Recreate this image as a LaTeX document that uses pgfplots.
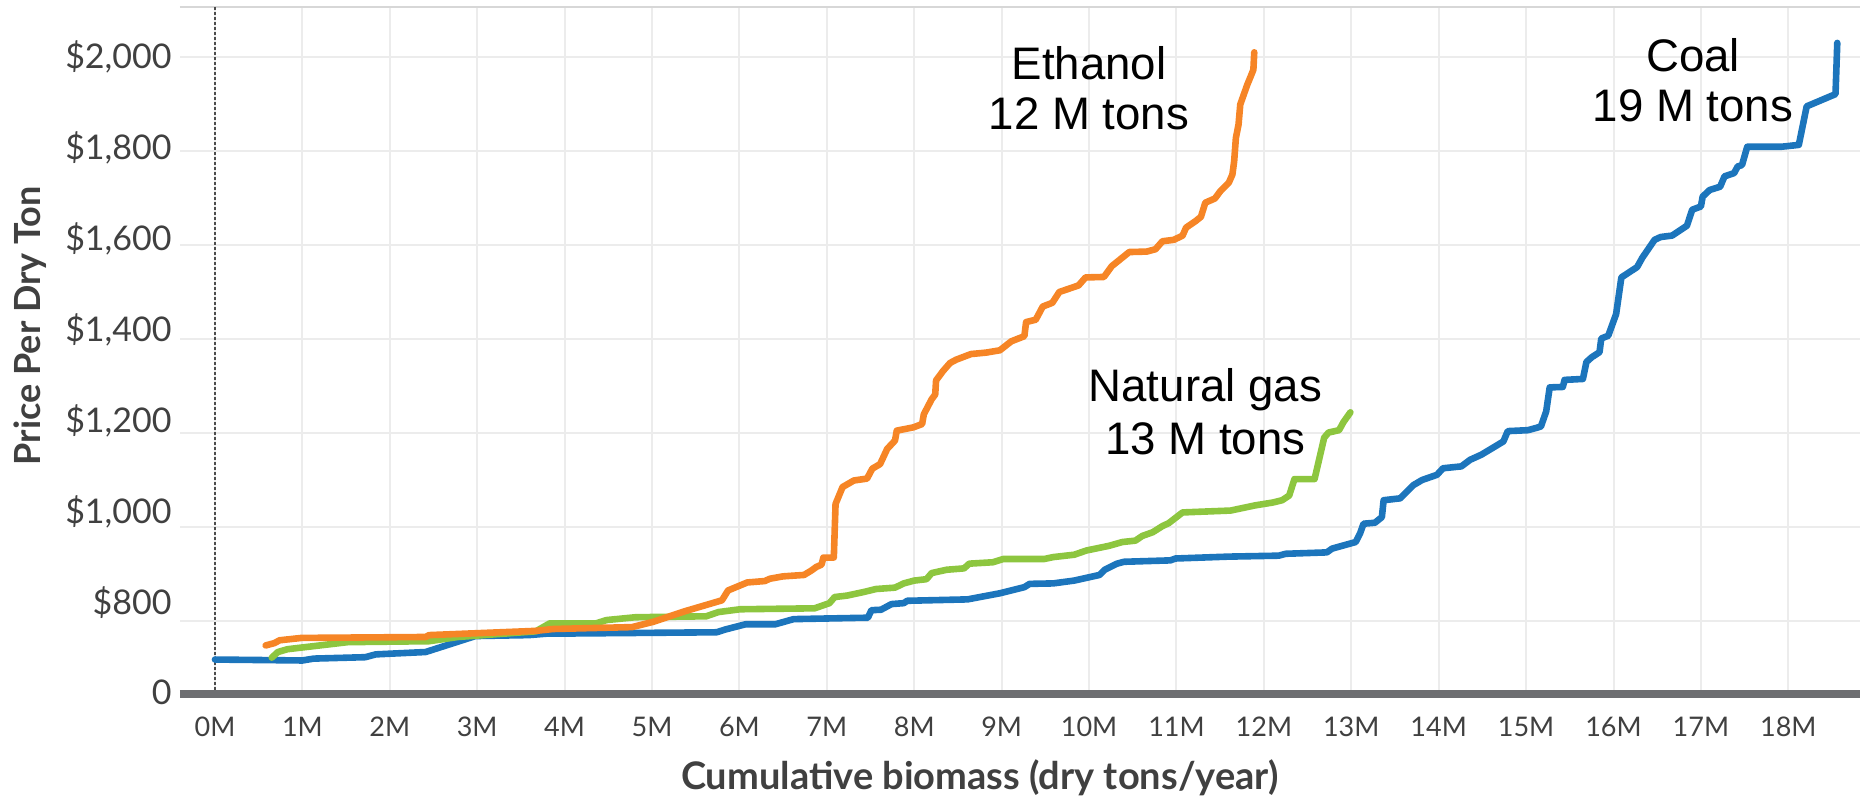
\documentclass[border=0pt]{standalone}
\usepackage{pgfplots}
\pgfplotsset{compat=1.18}
\usepackage{fontspec}
\setmainfont{Lato}[Numbers={Lining,Monospaced}]
\newfontfamily\arialf{Liberation Sans}
\definecolor{coal}{RGB}{28,117,188}
\definecolor{gas}{RGB}{141,198,63}
\definecolor{eth}{RGB}{246,133,38}
\definecolor{gridgray}{RGB}{236,236,236}
\definecolor{topgray}{RGB}{215,215,215}
\definecolor{axisgray}{RGB}{109,110,113}
\definecolor{labgray}{RGB}{64,64,64}
\begin{document}
\begin{tikzpicture}
\begin{axis}[
  at={(0,0)}, anchor=south west,
  scale only axis, width=840pt, height=343.5pt,
  xmin=-0.40, xmax=18.82, ymin=644.7, ymax=2106.4,
  axis line style={draw=none},
  clip=false,
  major tick length=0pt,
  xtick={0,...,18},
  xticklabels={0M,1M,2M,3M,4M,5M,6M,7M,8M,9M,10M,11M,12M,13M,14M,15M,16M,17M,18M},
  ytick={644.7,800,1000,1200,1400,1600,1800,2000},
  yticklabels={0,{\$800},{\$1,000},{\$1,200},{\$1,400},{\$1,600},{\$1,800},{\$2,000}},
  xmajorgrids, ymajorgrids,
  major grid style={color=gridgray, line width=1pt},
  xticklabel style={font=\fontsize{13.5}{16}\selectfont, text=labgray, anchor=base, yshift=-21.5pt},
  yticklabel style={font=\fontsize{17}{20}\selectfont, text=labgray, anchor=east, inner sep=0pt, xshift=-4pt,
     yshift={ifthenelse(\ticknum==0,1,(7-\ticknum)*1.55)}},
  xlabel={Cumulative biomass (dry tons/year)},
  ylabel={Price Per Dry Ton},
  xlabel style={font=\bfseries\fontsize{19}{22}\selectfont, text=labgray, at={(axis description cs:0.476,-0.1383)}, anchor=base},
  ylabel style={font=\bfseries\fontsize{18}{21}\selectfont, text=labgray, at={(axis description cs:-0.0893,0.536)}, anchor=center},
  every axis plot/.append style={line width=3.3pt, line join=round, line cap=round},
]
\draw[line width=1pt, topgray] (rel axis cs:0,1) -- (rel axis cs:1,1);
\draw[line width=1pt, color=black!70, dash pattern=on 1.5pt off 1pt] (axis cs:0,2106.4) -- (axis cs:0,644.7);

\addplot[coal] coordinates {
(0,718) (1.0,716) (1.13,720) (1.72,723) (1.84,729) (2.41,734) (2.98,768) (3.59,770) (3.79,773) (5.74,776) (5.84,782) (6.07,793) (6.41,793) (6.62,804) (7.47,807) (7.51,823) (7.62,824) (7.74,836) (7.88,838) (7.92,843) (8.61,846) (8.98,859) (9.26,872) (9.32,879) (9.59,880) (9.83,886) (10.12,898) (10.18,909) (10.32,922) (10.40,926) (10.93,929) (10.99,933) (11.6,937) (12.17,939) (12.25,943) (12.72,946) (12.78,954) (13.05,968) (13.1,986) (13.14,1007) (13.27,1009) (13.35,1021) (13.37,1057) (13.56,1061) (13.71,1089) (13.81,1100) (13.98,1111) (14.05,1125) (14.26,1129) (14.36,1143) (14.49,1154) (14.74,1182) (14.79,1204) (15.02,1206) (15.12,1211) (15.17,1214) (15.23,1246) (15.27,1297) (15.42,1298) (15.44,1313) (15.65,1315) (15.69,1351) (15.75,1361) (15.84,1372) (15.86,1401) (15.94,1407) (16.03,1453) (16.09,1531) (16.27,1553) (16.33,1573) (16.47,1611) (16.54,1617) (16.67,1620) (16.84,1641) (16.9,1675) (17.0,1682) (17.02,1703) (17.1,1717) (17.22,1724) (17.27,1746) (17.38,1753) (17.42,1767) (17.47,1770) (17.53,1809) (17.92,1809) (18.12,1813) (18.21,1895) (18.54,1921) (18.56,2030)
};
\addplot[gas] coordinates {
(0.65,722) (0.72,734) (0.83,740) (1.52,755) (2.45,757) (2.78,766) (3.67,778) (3.83,795) (4.36,795) (4.48,802) (4.81,808) (5.62,810) (5.76,819) (6.01,825) (6.86,827) (7.03,838) (7.09,851) (7.23,854) (7.43,862) (7.56,868) (7.78,871) (7.88,880) (8.0,886) (8.14,889) (8.2,902) (8.37,909) (8.57,912) (8.63,922) (8.9,925) (9.02,932) (9.49,932) (9.59,936) (9.83,941) (9.97,950) (10.23,960) (10.38,968) (10.53,971) (10.61,981) (10.73,989) (10.84,1002) (10.91,1008) (11.07,1031) (11.62,1035) (11.9,1046) (12.1,1052) (12.21,1057) (12.29,1067) (12.35,1102) (12.58,1102) (12.69,1190) (12.74,1201) (12.86,1206) (12.91,1223) (12.99,1244)
};
\addplot[eth] coordinates {
(0.58,748) (0.68,753) (0.74,759) (0.99,764) (2.41,766) (2.45,770) (3.67,779) (3.87,783) (4.77,787) (5.01,798) (5.38,821) (5.8,844) (5.87,865) (6.09,882) (6.29,885) (6.35,890) (6.5,895) (6.74,898) (6.82,907) (6.88,915) (6.94,920) (6.96,935) (7.08,935) (7.10,1049) (7.18,1085) (7.31,1099) (7.46,1103) (7.52,1124) (7.61,1134) (7.69,1166) (7.78,1184) (7.80,1205) (7.99,1212) (8.09,1219) (8.11,1240) (8.2,1272) (8.24,1282) (8.25,1312) (8.33,1332) (8.41,1349) (8.48,1356) (8.65,1368) (8.82,1371) (8.98,1376) (9.11,1395) (9.26,1406) (9.28,1436) (9.39,1441) (9.47,1469) (9.58,1477) (9.66,1500) (9.88,1514) (9.96,1531) (10.17,1532) (10.26,1555) (10.42,1579) (10.46,1585) (10.66,1586) (10.76,1591) (10.84,1608) (10.97,1611) (11.07,1620) (11.11,1637) (11.22,1651) (11.28,1660) (11.33,1690) (11.44,1699) (11.5,1714) (11.6,1733) (11.64,1750) (11.66,1778) (11.68,1828) (11.71,1856) (11.73,1899) (11.81,1941) (11.85,1959) (11.88,1973) (11.89,2010)
};

\draw[line width=4pt, axisgray] (rel axis cs:0,0) -- (rel axis cs:1,0);

\node[font=\arialf\fontsize{22.8}{26}\selectfont, anchor=base] at (axis cs:10.0,1953) {Ethanol};
\node[font=\arialf\fontsize{22.8}{26}\selectfont, anchor=base] at (axis cs:10.0,1845) {12 M tons};
\node[font=\arialf\fontsize{22.8}{26}\selectfont, anchor=base] at (axis cs:11.33,1266) {Natural gas};
\node[font=\arialf\fontsize{22.8}{26}\selectfont, anchor=base] at (axis cs:11.33,1155) {13 M tons};
\node[font=\arialf\fontsize{22.8}{26}\selectfont, anchor=base] at (axis cs:16.91,1970) {Coal};
\node[font=\arialf\fontsize{22.8}{26}\selectfont, anchor=base] at (axis cs:16.91,1862) {19 M tons};
\end{axis}
\pgfresetboundingbox
\useasboundingbox (-90pt,-51.5pt) rectangle (840pt,347pt);
\end{tikzpicture}
\end{document}
